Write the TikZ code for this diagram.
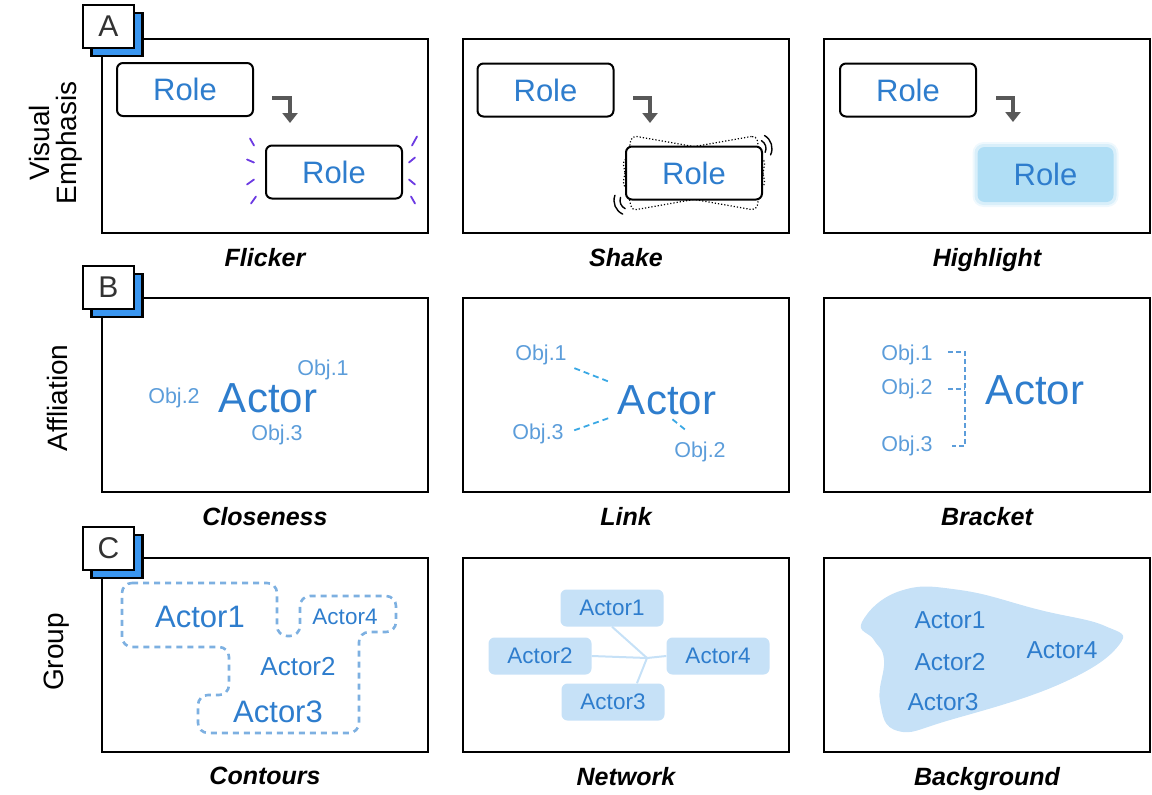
\documentclass[tikz,border=0pt]{standalone}
\usepackage{fontspec}
\setmainfont{Liberation Sans}
\usetikzlibrary{positioning,arrows.meta,backgrounds}
\definecolor{actorblue}{RGB}{46,125,205}
\definecolor{objblue}{RGB}{92,157,218}
\definecolor{linkblue}{RGB}{58,168,228}
\definecolor{dashblue}{RGB}{125,176,225}
\definecolor{paleblue}{RGB}{198,225,247}
\definecolor{glowblue}{RGB}{176,222,245}
\definecolor{tagblue}{RGB}{58,150,240}
\definecolor{arrowgray}{RGB}{88,88,88}
\definecolor{sparkviolet}{RGB}{108,58,226}
\definecolor{tagtext}{RGB}{50,50,50}
\tikzset{
  panel/.style={draw=black, line width=2.4pt, minimum width=326pt, minimum height=194pt, inner sep=0pt},
  caption/.style={font=\fontsize{25}{28}\selectfont\bfseries\itshape, inner sep=0pt},
  rowlabel/.style={font=\fontsize{28}{27}\selectfont, rotate=90, align=center, inner sep=0pt},
  tagbox/.style={draw=black, line width=2.4pt, fill=white, minimum width=51pt, minimum height=43pt, inner sep=0pt, text=tagtext, font=\fontsize{30}{30}\selectfont},
  tagshade/.style={tagbox, fill=tagblue},
  rolebox/.style={draw=black, line width=2pt, fill=white, rounded corners=6pt, minimum width=136pt, minimum height=53pt, inner sep=0pt, text=actorblue, font=\fontsize{31}{31}\selectfont},
  ghostbox/.style={draw=black, dotted, line width=1.2pt, rounded corners=5pt, minimum width=136pt, minimum height=52pt, inner sep=0pt},
  glowbox/.style={rolebox, draw=none, fill=glowblue, rounded corners=7pt, minimum height=55pt},
  turnarrow/.style={draw=arrowgray, line width=4pt, line join=miter, -{Triangle[width=15pt,length=10pt]}},
  spark/.style={draw=sparkviolet, line width=1.8pt, line cap=round},
  wiggle/.style={draw=black, line width=1.4pt, line cap=round},
  actor/.style={text=actorblue, inner sep=0pt, font=\fontsize{42}{42}\selectfont},
  obj/.style={text=objblue, inner sep=0pt, font=\fontsize{21.5}{21.5}\selectfont},
  linkline/.style={draw=linkblue, line width=1.8pt, dash pattern=on 6pt off 4pt},
  bracketline/.style={draw=objblue, line width=1.6pt, dash pattern=on 5pt off 3pt},
  contour/.style={draw=dashblue, line width=2.6pt, dash pattern=on 6pt off 5pt, rounded corners=10pt},
  netbox/.style={fill=paleblue, rounded corners=6pt, minimum width=103pt, minimum height=37pt, inner sep=0pt, text=actorblue, font=\fontsize{22.5}{22.5}\selectfont},
  netline/.style={draw=paleblue, line width=2pt},
  groupname/.style={text=actorblue, inner sep=0pt},
}
\begin{document}
\begin{tikzpicture}[x=1pt, y=-1pt]
\useasboundingbox (0,0) rectangle (1152,795);
% frames
\node[panel] (pa1) at (265,136) {};
\node[panel] (pa2) at (626,136) {};
\node[panel] (pa3) at (987,136) {};
\node[panel] (pb1) at (265,395) {};
\node[panel] (pb2) at (626,395) {};
\node[panel] (pb3) at (987,395) {};
\node[panel] (pc1) at (265,655) {};
\node[panel] (pc2) at (626,655) {};
\node[panel] (pc3) at (987,655) {};
% captions
\node[caption, below=14pt of pa1] (cpa1) {Flicker};
\node[caption, below=14pt of pa2] (cpa2) {Shake};
\node[caption, below=14pt of pa3] (cpa3) {Highlight};
\node[caption, below=14pt of pb1] (cpb1) {Closeness};
\node[caption, below=14pt of pb2] (cpb2) {Link};
\node[caption, below=14pt of pb3] (cpb3) {Bracket};
\node[caption, below=14pt of pc1] (cpc1) {Contours};
\node[caption, below=14pt of pc2] (cpc2) {Network};
\node[caption, below=14pt of pc3] (cpc3) {Background};
% row labels
\node[rowlabel] (rla) at (56,143) {Visual\\Emphasis};
\node[rowlabel] (rlb) at (57,398) {Affliation};
\node[rowlabel] (rlc) at (57,652) {Group};
% letter tags
\node[tagshade] (tsa) at (117,34.5) {};
\node[tagbox] (tga) at (108.5,26.5) {A};
\node[tagshade] (tsb) at (117,295.5) {};
\node[tagbox] (tgb) at (108.5,287.5) {B};
\node[tagshade] (tsc) at (117,556.5) {};
\node[tagbox] (tgc) at (108.5,548.5) {C};

% A: flicker
\node[rolebox] (fr1) at (185,89.5) {Role};
\node[rolebox] (fr2) at (334,172) {Role};
\coordinate (fa) at (272,98);
\draw[turnarrow] (fa) -| ++(18,25);
\foreach \ax/\ay/\bx/\by in {-15/-6/-11/1, -18/15/-11/18, -18/40/-11/35, -14/59/-9/52}
  \draw[spark] ([shift={(\ax,\ay)}]fr2.north west) -- ([shift={(\bx,\by)}]fr2.north west);
\foreach \ax/\ay/\bx/\by in {14/-8/9/1, 12/13/6/18, 12/40/6/35, 12/59/8/52}
  \draw[spark] ([shift={(\ax,\ay)}]fr2.north east) -- ([shift={(\bx,\by)}]fr2.north east);

% A: shake
\node[rolebox] (sr1) at (545.5,90) {Role};
\coordinate (sa) at (633,98);
\draw[turnarrow] (sa) -| ++(17,25);
\coordinate (sc) at (694,173);
\node[ghostbox, rotate=10] (sg1) at (sc) {};
\node[ghostbox, rotate=-10] (sg2) at (sc) {};
\node[rolebox] (sr2) at (sc) {Role};
\draw[wiggle] (sr2.north east) ++(-6,3) ++(-60:9) arc (-60:25:9);
\draw[wiggle] (sr2.north east) ++(-6,3) ++(-60:15) arc (-60:25:15);
\draw[wiggle] (sr2.south west) ++(4,0) ++(115:9) arc (115:200:9);
\draw[wiggle] (sr2.south west) ++(4,0) ++(115:15) arc (115:200:15);

% A: highlight
\node[rolebox] (hr1) at (908,90) {Role};
\coordinate (ha) at (996,98);
\draw[turnarrow] (ha) -| ++(17,24);
\node[glowbox] (hr2) at (1045.5,174.5) {Role};
\begin{pgfonlayer}{background}
\fill[glowblue, opacity=0.2, rounded corners=11pt] ([shift={(-4,-4)}]hr2.north west) rectangle ([shift={(4,4)}]hr2.south east);
\fill[glowblue, opacity=0.35, rounded corners=9pt] ([shift={(-2,-2)}]hr2.north west) rectangle ([shift={(2,2)}]hr2.south east);
\end{pgfonlayer}

% B: closeness
\node[actor] (ca) at (268,398) {Actor};
\node[obj] (co1) at (323,370) {Obj.1};
\node[obj] (co2) at (174,398) {Obj.2};
\node[obj] (co3) at (277,435) {Obj.3};

% B: link
\node[actor] (la) at (667,400) {Actor};
\node[obj] (lo1) at (541,355) {Obj.1};
\node[obj] (lo2) at (700,452) {Obj.2};
\node[obj] (lo3) at (538,434) {Obj.3};
\draw[linkline, shorten <=8pt, shorten >=10pt] (lo1.south east) -- (la.north west);
\draw[linkline, shorten <=11pt, shorten >=10pt] (lo3.east) -- (la.south west);
\draw[linkline, shorten <=7pt, shorten >=19pt] (la.south) -- (lo2.north);

% B: bracket
\node[actor] (ba) at (1035,390) {Actor};
\node[obj] (bo1) at (907,355) {Obj.1};
\node[obj] (bo2) at (907,389) {Obj.2};
\node[obj] (bo3) at (907,446) {Obj.3};
\draw[bracketline] ([shift={(15,-3)}]bo1.east) -- ++(17,0) |- ([xshift=19pt]bo3.east);
\draw[bracketline] ([xshift=15pt]bo2.east) -- ++(17,0);

% C: contours
\draw[contour] (122,583) -- (277,583) -- (277,636) -- (300,636) -- (300,596) -- (396,596) -- (396,632) -- (359,632) -- (359,733) -- (198,733) -- (198,695) -- (229,695) -- (229,647) -- (122,647) -- cycle;
\node[groupname, font=\fontsize{31}{31}\selectfont] (ka1) at (200,617) {Actor1};
\node[groupname, font=\fontsize{26}{26}\selectfont] (ka2) at (298,667) {Actor2};
\node[groupname, font=\fontsize{31}{31}\selectfont] (ka3) at (278,712) {Actor3};
\node[groupname, font=\fontsize{22.5}{22.5}\selectfont] (ka4) at (345,617) {Actor4};

% C: network
\node[netbox] (na1) at (612,608) {Actor1};
\node[netbox] (na2) at (540,656) {Actor2};
\node[netbox] (na3) at (613,702) {Actor3};
\node[netbox] (na4) at (718,656) {Actor4};
\coordinate (hub) at (647,658);
\draw[netline] (hub) -- (na1.south);
\draw[netline] (hub) -- (na2.east);
\draw[netline] (hub) -- (na4.west);
\draw[netline] (hub) -- (na3.38);

% C: background
\fill[paleblue] plot[smooth cycle, tension=0.75] coordinates {(862,622) (900,591) (960,590) (1040,610) (1105,626) (1119,645) (1060,684) (950,720) (898,731) (880,702) (884,660) (874,640)};
\node[groupname, font=\fontsize{24.5}{24.5}\selectfont] (ga1) at (950,620) {Actor1};
\node[groupname, font=\fontsize{24.5}{24.5}\selectfont] (ga2) at (950,662) {Actor2};
\node[groupname, font=\fontsize{24.5}{24.5}\selectfont] (ga3) at (943,702) {Actor3};
\node[groupname, font=\fontsize{24.5}{24.5}\selectfont] (ga4) at (1062,650) {Actor4};
\end{tikzpicture}
\end{document}
